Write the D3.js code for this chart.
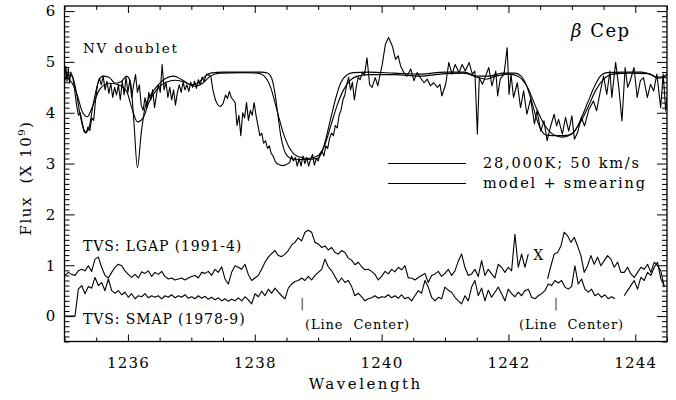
<!DOCTYPE html>
<html>
<head>
<meta charset="utf-8">
<script src="https://cdn.jsdelivr.net/npm/d3@7"></script>
<style>
  body { margin: 0; background: #fff; }
  text { font-family: "DejaVu Serif", serif; fill: #000; white-space: pre; }
</style>
</head>
<body>
<div id="chart"></div>
<script>
// observed N V spectrum, [wavelength, flux]
var observed = [
  [1235.00,4.60],[1235.02,4.92],[1235.04,4.62],[1235.06,4.88],[1235.08,4.58],[1235.10,4.80],[1235.13,4.70],
  [1235.16,4.45],[1235.19,4.15],[1235.22,3.95],[1235.25,4.00],[1235.28,3.80],[1235.31,3.62],[1235.34,3.60],
  [1235.37,3.72],[1235.40,3.65],[1235.43,3.90],[1235.46,3.85],[1235.49,4.25],[1235.52,4.55],[1235.55,4.68],
  [1235.58,4.55],[1235.61,4.72],[1235.64,4.45],[1235.67,4.62],[1235.70,4.38],[1235.73,4.58],[1235.76,4.30],
  [1235.79,4.50],[1235.82,4.35],[1235.85,4.55],[1235.88,4.25],[1235.91,4.62],[1235.94,4.35],[1235.97,4.70],
  [1236.00,4.40],[1236.03,4.65],[1236.06,4.30],[1236.09,4.55],[1236.12,4.75],[1236.15,4.40],[1236.18,4.55],
  [1236.21,4.15],[1236.24,4.05],[1236.27,4.30],[1236.30,4.10],[1236.33,4.40],[1236.36,4.25],[1236.39,4.45],
  [1236.42,4.10],[1236.45,4.35],[1236.48,4.55],[1236.51,4.40],[1236.54,4.95],[1236.57,4.45],[1236.60,4.60],
  [1236.63,4.30],[1236.66,4.50],[1236.69,4.25],[1236.72,4.45],[1236.75,4.15],[1236.78,4.40],[1236.81,4.55],
  [1236.84,4.40],[1236.87,4.60],[1236.90,4.45],[1236.93,4.55],[1236.96,4.42],[1236.99,4.60],[1237.02,4.50],
  [1237.05,4.62],[1237.08,4.48],[1237.11,4.65],[1237.14,4.55],[1237.17,4.70],[1237.20,4.62],[1237.24,4.76],
  [1237.28,4.74],[1237.31,4.70],[1237.34,4.45],[1237.38,4.25],[1237.42,4.15],[1237.46,4.12],[1237.50,4.18],
  [1237.54,4.35],[1237.57,4.28],[1237.60,4.42],[1237.63,4.30],[1237.66,4.25],[1237.69,4.20],[1237.72,3.75],
  [1237.75,3.95],[1237.78,3.55],[1237.81,4.00],[1237.84,3.90],[1237.87,4.20],[1237.90,3.85],[1237.93,4.05],
  [1237.96,3.95],[1237.99,4.20],[1238.02,3.95],[1238.05,3.75],[1238.08,3.55],[1238.11,3.60],[1238.14,3.40],
  [1238.17,3.45],[1238.20,3.30],[1238.23,3.35],[1238.26,3.20],[1238.29,3.15],[1238.32,3.05],[1238.35,3.00],
  [1238.40,2.97],[1238.45,2.96],[1238.50,2.98],[1238.55,3.02],[1238.58,3.15],[1238.61,3.05],[1238.64,3.12],
  [1238.67,2.95],[1238.70,3.10],[1238.73,2.95],[1238.76,3.15],[1238.79,3.00],[1238.82,3.12],[1238.85,2.95],
  [1238.88,3.08],[1238.91,3.18],[1238.94,2.97],[1238.97,3.10],[1239.00,3.05],[1239.03,3.20],[1239.06,3.25],
  [1239.09,3.15],[1239.12,3.35],[1239.15,3.30],[1239.18,3.50],[1239.21,3.60],[1239.24,3.55],[1239.27,3.75],
  [1239.30,3.70],[1239.33,3.95],[1239.36,4.05],[1239.39,4.25],[1239.42,4.35],[1239.45,4.55],[1239.48,4.70],
  [1239.51,4.45],[1239.54,4.60],[1239.57,4.25],[1239.60,4.50],[1239.63,4.70],[1239.66,4.65],[1239.70,4.80],
  [1239.73,4.75],[1239.77,5.08],[1239.81,4.56],[1239.85,4.50],[1239.90,4.69],[1239.94,4.53],[1240.01,4.95],
  [1240.06,5.35],[1240.11,5.48],[1240.17,5.31],[1240.22,5.05],[1240.26,5.12],[1240.30,4.92],[1240.35,4.79],
  [1240.40,4.72],[1240.46,4.86],[1240.51,4.63],[1240.56,4.79],[1240.61,4.69],[1240.67,4.59],[1240.72,4.66],
  [1240.77,4.53],[1240.82,4.59],[1240.88,4.50],[1240.92,4.56],[1240.95,4.33],[1241.01,4.56],[1241.06,4.99],
  [1241.11,4.76],[1241.16,4.95],[1241.22,4.79],[1241.27,4.95],[1241.32,4.82],[1241.38,4.99],[1241.43,4.76],
  [1241.47,4.82],[1241.51,3.58],[1241.54,4.69],[1241.59,4.56],[1241.64,4.72],[1241.69,4.89],[1241.74,4.53],
  [1241.80,4.82],[1241.83,4.33],[1241.87,4.66],[1241.93,4.76],[1241.98,5.28],[1242.01,4.36],[1242.04,4.76],
  [1242.08,4.30],[1242.14,4.59],[1242.19,4.10],[1242.24,4.43],[1242.29,3.97],[1242.35,4.27],[1242.41,3.78],
  [1242.45,4.04],[1242.51,3.64],[1242.56,3.84],[1242.61,3.45],[1242.66,3.71],[1242.72,3.97],[1242.76,3.74],
  [1242.79,3.87],[1242.85,3.58],[1242.90,3.91],[1242.95,3.64],[1243.00,3.94],[1243.04,3.48],[1243.09,3.61],
  [1243.15,3.91],[1243.20,3.74],[1243.27,4.07],[1243.34,4.23],[1243.39,4.04],[1243.45,4.43],[1243.50,4.72],
  [1243.55,4.36],[1243.60,4.82],[1243.63,4.30],[1243.69,4.99],[1243.74,4.50],[1243.79,3.84],[1243.84,4.89],
  [1243.88,4.50],[1243.92,4.63],[1243.98,4.89],[1244.03,4.30],[1244.08,4.63],[1244.13,4.69],[1244.19,4.30],
  [1244.24,4.56],[1244.29,4.43],[1244.34,4.76],[1244.40,4.10],[1244.44,4.76],[1244.48,4.04],[1244.50,4.30]
];

// model 28,000K; 50 km/s
var model = [
  [1235.00,4.62],[1235.05,4.74],[1235.12,4.72],[1235.18,4.45],[1235.24,4.00],[1235.30,3.68],[1235.34,3.62],
  [1235.39,3.72],[1235.45,4.15],[1235.52,4.55],[1235.60,4.72],[1235.70,4.70],[1235.80,4.58],[1235.90,4.62],
  [1235.98,4.72],[1236.04,4.60],[1236.09,3.90],[1236.15,2.92],[1236.21,3.60],[1236.27,4.10],[1236.36,4.35],
  [1236.48,4.55],[1236.60,4.68],[1236.72,4.72],[1236.85,4.65],[1237.00,4.55],[1237.10,4.58],[1237.20,4.70],
  [1237.30,4.78],[1237.50,4.80],[1237.80,4.80],[1238.10,4.80],[1238.20,4.78],[1238.26,4.70],[1238.31,4.45],
  [1238.36,4.00],[1238.41,3.55],[1238.46,3.28],[1238.52,3.14],[1238.60,3.09],[1238.80,3.08],[1238.98,3.10],
  [1239.05,3.20],[1239.12,3.48],[1239.20,3.90],[1239.28,4.30],[1239.36,4.60],[1239.45,4.74],[1239.55,4.79],
  [1239.80,4.80],[1240.20,4.78],[1240.60,4.76],[1241.00,4.80],[1241.30,4.80],[1241.50,4.72],[1241.70,4.72],
  [1241.90,4.78],[1242.10,4.78],[1242.20,4.72],[1242.28,4.55],[1242.36,4.25],[1242.44,3.90],[1242.52,3.65],
  [1242.60,3.56],[1242.80,3.55],[1242.95,3.56],[1243.05,3.65],[1243.15,3.90],[1243.25,4.20],[1243.35,4.50],
  [1243.45,4.72],[1243.55,4.79],[1243.80,4.80],[1244.10,4.80],[1244.25,4.75],[1244.35,4.68],[1244.45,4.70],
  [1244.50,4.76]
];

// model + smearing
var smeared = [
  [1235.00,4.70],[1235.10,4.62],[1235.20,4.35],[1235.28,4.02],[1235.36,3.92],[1235.45,4.15],[1235.55,4.45],
  [1235.70,4.58],[1235.85,4.55],[1235.98,4.42],[1236.06,4.10],[1236.15,3.82],[1236.24,3.90],[1236.33,4.20],
  [1236.45,4.45],[1236.60,4.60],[1236.75,4.64],[1236.90,4.60],[1237.05,4.52],[1237.18,4.58],[1237.30,4.72],
  [1237.45,4.78],[1237.80,4.79],[1238.05,4.78],[1238.15,4.72],[1238.25,4.50],[1238.35,4.05],[1238.45,3.60],
  [1238.55,3.30],[1238.68,3.14],[1238.85,3.10],[1239.00,3.16],[1239.10,3.35],[1239.20,3.75],[1239.30,4.15],
  [1239.40,4.45],[1239.50,4.63],[1239.62,4.72],[1239.80,4.75],[1240.20,4.75],[1240.60,4.72],[1241.00,4.77],
  [1241.30,4.78],[1241.50,4.70],[1241.65,4.66],[1241.80,4.72],[1242.00,4.76],[1242.15,4.72],[1242.30,4.50],
  [1242.42,4.15],[1242.55,3.80],[1242.70,3.58],[1242.85,3.52],[1243.00,3.58],[1243.12,3.78],[1243.25,4.10],
  [1243.38,4.45],[1243.50,4.66],[1243.65,4.76],[1243.90,4.78],[1244.20,4.77],[1244.35,4.70],[1244.45,4.72],
  [1244.50,4.75]
];

// TVS curves, evenly sampled (start wavelength + step)
var tvsStep = 0.05255;

var lgapStart1 = 1235.008;
var lgapFlux1 = [
  0.80,0.86,0.82,0.80,0.89,0.92,0.89,0.99,0.88,1.12,1.16,0.96,0.80,0.75,0.86,0.96,1.02,0.99,0.89,0.82,
  0.76,0.82,0.75,0.87,0.84,0.89,0.78,0.86,0.82,0.88,0.78,0.73,0.75,0.71,0.73,0.75,0.71,0.75,0.78,0.80,
  0.75,0.86,0.84,0.88,0.80,0.92,0.86,0.97,0.73,0.63,0.86,0.99,0.96,0.92,1.02,0.82,0.70,0.75,0.80,0.92,
  1.06,1.16,1.23,1.29,1.19,1.17,1.22,1.29,1.40,1.45,1.54,1.48,1.65,1.69,1.65,1.45,1.42,1.35,1.38,1.30,
  1.35,1.25,1.22,
  1.29,1.25,1.14,1.10,1.01,1.06,0.97,0.91,0.92,0.88,0.82,0.71,0.78,0.88,0.83,0.92,0.87,0.96,0.91,0.99,
  0.75,0.75,0.71,0.76,0.80,0.84,0.66,0.80,0.83,0.88,0.78,0.84,0.92,0.80,0.89,1.08,1.22,0.96,0.80,0.83,
  0.92,0.78,1.09,0.80,0.92,0.83,0.75,1.02,0.96,0.86,0.96,0.89,1.61,0.96,1.22,0.96,1.22
];
var lgapStart2 = 1242.617;
var lgapFlux2 = [
  0.73,0.99,1.22,1.25,1.38,1.65,1.58,1.45,1.55,1.38,1.19,0.86,0.99,1.19,1.02,1.16,0.99,1.09,1.19,1.12,
  0.96,1.06,0.86,0.86,0.96,0.83,0.76,0.86,0.96,0.92,1.02,0.86,1.06,0.99,0.89,0.57
];

var smapStart1 = 1235.008;
var smapFlux1 = [
  0,0,0,0,0.53,0.60,0.44,0.58,0.55,0.76,0.60,0.66,0.50,0.73,0.50,0.45,0.50,0.42,0.47,0.37,
  0.44,0.34,0.40,0.38,0.44,0.36,0.40,0.37,0.40,0.34,0.40,0.37,0.42,0.36,0.40,0.37,0.42,0.35,0.38,0.34,
  0.40,0.35,0.39,0.33,0.37,0.32,0.36,0.30,0.34,0.29,0.33,0.30,0.36,0.30,0.38,0.32,0.24,0.44,0.38,0.49,
  0.40,0.53,0.45,0.55,0.47,0.40,0.34,0.55,0.63,0.68,0.70,0.75,0.70,0.78,0.71,0.80,0.86,0.92,1.12,0.97,
  0.89,0.78,0.66,
  0.75,0.66,0.70,0.58,0.40,0.45,0.38,0.30,0.34,0.36,0.40,0.35,0.38,0.37,0.42,0.36,0.40,0.35,0.42,0.34,
  0.37,0.30,0.40,0.50,0.45,0.70,0.57,0.37,0.30,0.37,0.34,0.57,0.51,0.47,0.37,0.30,0.24,0.40,0.30,0.57,
  0.70,0.40,0.55,0.30,0.51,0.37,0.47,0.57,0.44,0.30,0.53,0.44,0.38,0.47,0.40,0.50,0.53,0.37,0.34,0.40,
  0.44,0.50,0.63,0.60,0.70,0.65,0.70,0.57,0.53,0.58,0.99,0.63,0.73,0.53,0.47,0.53,0.40,0.44,0.37,0.42,
  0.34,0.38,0.34
];
var smapStart2 = 1243.825;
var smapFlux2 = [0.40,0.50,0.60,0.70,0.53,0.76,0.70,0.86,0.80,0.96,1.06,0.73,0.60];

var lineCenters = [1238.75, 1242.75];
var xMajorTicks = [1236, 1238, 1240, 1242, 1244];
var yMajorTicks = [0, 1, 2, 3, 4, 5, 6];

var svgWidth = 676;
var svgHeight = 400;

var plot = { left: 64.5, right: 667, top: 6, bottom: 341.5 };

var svg = d3.select("#chart")
  .append("svg")
  .attr("width", svgWidth)
  .attr("height", svgHeight);

var x = d3.scaleLinear().domain([1235, 1244.5]).range([plot.left, plot.right]);
var y = d3.scaleLinear().domain([-0.5, 6.1]).range([plot.bottom, plot.top]);

// turn an evenly sampled flux list into points
function sampled(start, flux) {
  return flux.map(function(f, i) { return [start + i * tvsStep, f]; });
}

svg.append("clipPath").attr("id", "clip")
  .append("rect")
  .attr("x", plot.left).attr("y", plot.top)
  .attr("width", plot.right - plot.left).attr("height", plot.bottom - plot.top);

var lines = svg.append("g").attr("clip-path", "url(#clip)");

var rough = d3.line().x(d => x(d[0])).y(d => y(d[1]));
var smooth = d3.line().x(d => x(d[0])).y(d => y(d[1])).curve(d3.curveMonotoneX);

function addLine(data, gen) {
  lines.append("path")
    .attr("d", gen(data))
    .attr("fill", "none")
    .attr("stroke", "#000")
    .attr("stroke-width", 1.1)
    .attr("stroke-linejoin", "round");
}

addLine(smeared, smooth);
addLine(model, smooth);
addLine(observed, rough);
addLine(sampled(lgapStart1, lgapFlux1), rough);
addLine(sampled(lgapStart2, lgapFlux2), rough);
addLine(sampled(smapStart1, smapFlux1), rough);
addLine(sampled(smapStart2, smapFlux2), rough);

// line centre markers
lineCenters.forEach(function(c) {
  svg.append("line")
    .attr("x1", x(c)).attr("x2", x(c))
    .attr("y1", y(0.36)).attr("y2", y(0.11))
    .attr("stroke", "#777").attr("stroke-width", 1.5);
});

// axes: major and minor ticks on all four sides, pointing inward
var yMinor = d3.range(-5, 61).map(d => d / 10).filter(d => yMajorTicks.indexOf(d) < 0);
var xMinor = d3.range(2470, 2490).map(d => d / 2).filter(d => xMajorTicks.indexOf(d) < 0);

function axisGroup(axis, tx, ty) {
  var g = svg.append("g")
    .attr("transform", `translate(${tx},${ty})`)
    .call(axis);
  g.select(".domain").remove();
  g.selectAll("line").attr("stroke", "#000").attr("stroke-width", 1);
  g.selectAll("text")
    .style("font-family", "'DejaVu Serif', serif")
    .style("font-size", "15px")
    .style("letter-spacing", "1.2px")
    .attr("fill", "#000");
  return g;
}

axisGroup(d3.axisLeft(y).tickValues(yMajorTicks).tickSize(-10).tickPadding(8).tickFormat(d3.format("d")), plot.left, 0);
axisGroup(d3.axisLeft(y).tickValues(yMinor).tickSize(-5).tickFormat(""), plot.left, 0);
axisGroup(d3.axisRight(y).tickValues(yMajorTicks).tickSize(-10).tickFormat(""), plot.right, 0);
axisGroup(d3.axisRight(y).tickValues(yMinor).tickSize(-5).tickFormat(""), plot.right, 0);

axisGroup(d3.axisBottom(x).tickValues(xMajorTicks).tickSize(-7).tickPadding(16).tickFormat(d3.format("d")), 0, plot.bottom);
axisGroup(d3.axisBottom(x).tickValues(xMinor).tickSize(-4).tickFormat(""), 0, plot.bottom);
axisGroup(d3.axisTop(x).tickValues(xMajorTicks).tickSize(-7).tickFormat(""), 0, plot.top);
axisGroup(d3.axisTop(x).tickValues(xMinor).tickSize(-4).tickFormat(""), 0, plot.top);

svg.append("rect")
  .attr("x", plot.left).attr("y", plot.top)
  .attr("width", plot.right - plot.left).attr("height", plot.bottom - plot.top)
  .attr("fill", "none").attr("stroke", "#000").attr("stroke-width", 1.3);

// axis titles
svg.append("text")
  .attr("x", (plot.left + plot.right) / 2)
  .attr("y", 389)
  .attr("text-anchor", "middle")
  .style("font-size", "15px")
  .style("letter-spacing", "2.5px")
  .text("Wavelength");

var yTitle = svg.append("text")
  .attr("transform", "translate(31,178) rotate(-90)")
  .attr("text-anchor", "middle")
  .style("font-size", "15px")
  .style("letter-spacing", "1.5px");
yTitle.append("tspan").text("Flux  (X 10");
yTitle.append("tspan").attr("dy", -6).style("font-size", "10px").text("9");
yTitle.append("tspan").attr("dy", 6).text(")");

// annotations
function note(txt, px, py, size, spacing) {
  return svg.append("text")
    .attr("x", px).attr("y", py)
    .style("font-size", size + "px")
    .style("letter-spacing", spacing + "px")
    .text(txt);
}

note("NV doublet", 83, 53, 13.5, 1.8);
var star = note("", 571, 37, 18, 1.5);
star.append("tspan").style("font-style", "italic").text("β");
star.append("tspan").text(" Cep");

note("TVS: LGAP (1991-4)", 83, 251, 14, 0.9);
note("TVS: SMAP (1978-9)", 83, 324, 14, 0.9);
note("X", x(1242.39), y(1.1), 14, 0);
note("(Line  Center)", 305, 329, 13, 0.9);
note("(Line  Center)", 519, 329, 13, 0.9);

// legend
var legendRows = ["28,000K; 50 km/s", "model + smearing"];
legendRows.forEach(function(label, i) {
  var ly = 163.5 + i * 20;
  svg.append("line")
    .attr("x1", 388).attr("x2", 466)
    .attr("y1", ly).attr("y2", ly)
    .attr("stroke", "#000").attr("stroke-width", 1.1);
  note(label, 483, ly + 4.5, 14.5, 1.8);
});
</script>
</body>
</html>
